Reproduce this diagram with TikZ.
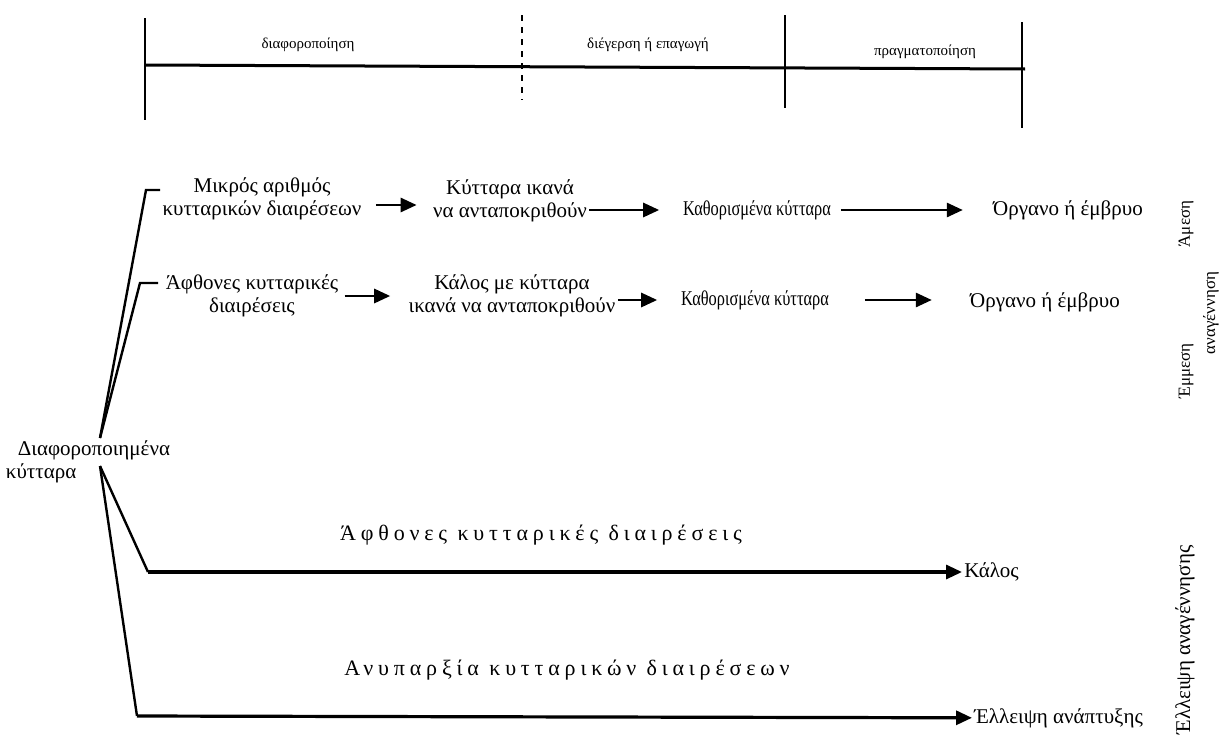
\documentclass[tikz,border=0pt]{standalone}
\usepackage{fontspec}
\setmainfont{Liberation Serif}
\usetikzlibrary{arrows.meta}

\begin{document}
\begin{tikzpicture}[x=0.5pt,y=-0.5pt,
  tekst/.style={font=\fontsize{10.5}{11.5}\selectfont,align=center,inner sep=1pt},
  smal/.style={tekst,transform shape,xscale=0.78},
  fase/.style={font=\fontsize{7.5}{9}\selectfont,inner sep=1pt},
  zij/.style={font=\fontsize{8.5}{10}\selectfont,rotate=90,inner sep=1pt},
  breed/.style={font=\fontsize{11}{13}\selectfont\addfontfeature{LetterSpace=22},inner sep=1pt},
  pijl/.style={-{Triangle[length=8pt,width=7pt]},line width=1.4pt},
  tak/.style={line width=1.2pt}]
\useasboundingbox (0,0) rectangle (1219,739);

% Tijdas
\coordinate (L) at (145,65);
\coordinate (R) at (1025,69);
\draw[line width=1.5pt] (L) -- (R);
\draw[line width=0.8pt] (145,18) -- (145,120);
\draw[line width=0.8pt,dashed] (522,15) -- (522,100);
\draw[line width=0.8pt] (785,15) -- (785,108);
\draw[line width=0.8pt] (1022,22) -- (1022,128);
\node[fase] (f1) at (308,45) {διαφοροποίηση};
\node[fase] (f2) at (648,45) {διέγερση ή επαγωγή};
\node[fase] (f3) at (925,52) {πραγματοποίηση};

% Bovenste rij
\node[tekst] (m1) at (262,199) {Μικρός αριθμός\\κυτταρικών διαιρέσεων};
\node[tekst] (k1) at (510,201) {Κύτταρα ικανά\\να ανταποκριθούν};
\node[smal] (c1) at (757,210) {Καθορισμένα κύτταρα};
\node[tekst] (o1) at (1068,210) {Όργανο ή έμβρυο};
\draw[pijl,shorten <=6pt,shorten >=7pt] ([yshift=-3pt]m1.east) -- ([yshift=-3pt]m1.east -| k1.west);
\draw[pijl,shorten >=11pt] (c1.west -| k1.east) -- (c1.west);
\draw[pijl,shorten <=4pt,shorten >=14pt] (c1) -- (o1);

% Tweede rij
\node[tekst] (m2) at (252,296) {Άφθονες κυτταρικές\\διαιρέσεις};
\node[tekst] (k2) at (512,296) {Κάλος με κύτταρα\\ικανά να ανταποκριθούν};
\node[smal] (c2) at (755,300) {Καθορισμένα κύτταρα};
\node[tekst] (o2) at (1045,302) {Όργανο ή έμβρυο};
\draw[pijl,shorten <=2pt,shorten >=8pt] (m2) -- (k2);
\draw[pijl,shorten >=11pt] (c2.west -| k2.east) -- (c2.west);
\draw[pijl,shorten <=17pt,shorten >=18pt] (c2.east) -- (c2.east -| o2.west);

% Vertakking
\node[tekst,align=left] (d) at (88,462) {\hspace*{6pt}Διαφοροποιημένα\\κύτταρα};
\coordinate (J1) at (100,438);
\coordinate (J2) at (100,466);
\coordinate (B1) at (146,190);
\coordinate (B2) at (140,283);
\coordinate (B3) at (148,572);
\coordinate (B4) at (137,716);
\draw[tak] (J1) -- (B1) -- (160,190);
\draw[tak] (J1) -- (B2) -- (158,283);

% Onderste takken
\node[tekst,anchor=west] (kalos) at (962,572) {Κάλος};
\node[tekst,anchor=west] (geen) at (972,718) {Έλλειψη ανάπτυξης};
\draw[tak] (J2) -- (B3);
\draw[tak] (J2) -- (B4);
\draw[pijl,line width=1.6pt] (B3) -- (kalos);
\draw[pijl,line width=1.6pt] (B4) -- (geen);
\node[breed] (t1) at (541,535) {Άφθονες κυτταρικές διαιρέσεις};
\node[breed] (t2) at (567,670) {Ανυπαρξία κυτταρικών διαιρέσεων};

% Zijlabels
\node[zij] (z1) at (1186,224) {Άμεση};
\node[zij] (z2) at (1186,371) {Έμμεση};
\node[zij] (z3) at (1211,313) {αναγέννηση};
\node[zij,font=\fontsize{10.5}{12}\selectfont] (z4) at (1185,640) {Έλλειψη αναγέννησης};
\end{tikzpicture}
\end{document}
